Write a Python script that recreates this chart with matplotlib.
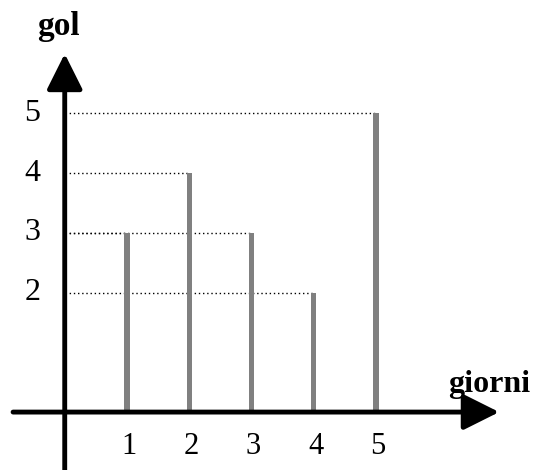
import matplotlib
matplotlib.use("Agg")
import matplotlib.pyplot as plt

# data
giorni = [1, 2, 3, 4, 5]
gol = [3, 4, 3, 2, 5]
y_ticks = [2, 3, 4, 5]

plt.rcParams["font.family"] = ["Liberation Serif", "DejaVu Serif"]

fig = plt.figure(figsize=(5.39, 4.70), dpi=100)
ax = fig.add_axes([0, 0, 1, 1])
ax.set_xlim(-1.04, 7.62)
ax.set_ylim(-0.97, 6.90)
ax.axis("off")

# dotted guide lines from the y axis to the top of each bar
for x, v in zip(giorni, gol):
    ax.hlines(v, 0, x, colors="black", linestyles=(0, (1, 2)), lw=1.0, zorder=1)

# bars (thin grey sticks)
ax.bar(giorni, gol, width=0.085, color="#808080", zorder=2)

# axes with arrows
arrow = dict(arrowstyle="-|>,head_length=2.2,head_width=1.1", lw=3.5,
             color="black", shrinkA=0, shrinkB=0, mutation_scale=10)
ax.annotate("", xy=(6.98, 0), xytext=(-0.83, 0), arrowprops=arrow, zorder=3)
ax.annotate("", xy=(0, 6.0), xytext=(0, -0.97), arrowprops=arrow, zorder=3)

# tick labels
for x in giorni:
    ax.text(x + 0.03, -0.58, str(x), ha="center", va="center", fontsize=22)
for y in y_ticks:
    ax.text(-0.52, y, str(y), ha="center", va="center", fontsize=23)

ax.text(-0.1, 6.45, "gol", ha="center", va="center", fontsize=24, fontweight="bold")
ax.text(6.82, 0.47, "giorni", ha="center", va="center", fontsize=23, fontweight="bold")

fig.savefig("out.png", dpi=100)
